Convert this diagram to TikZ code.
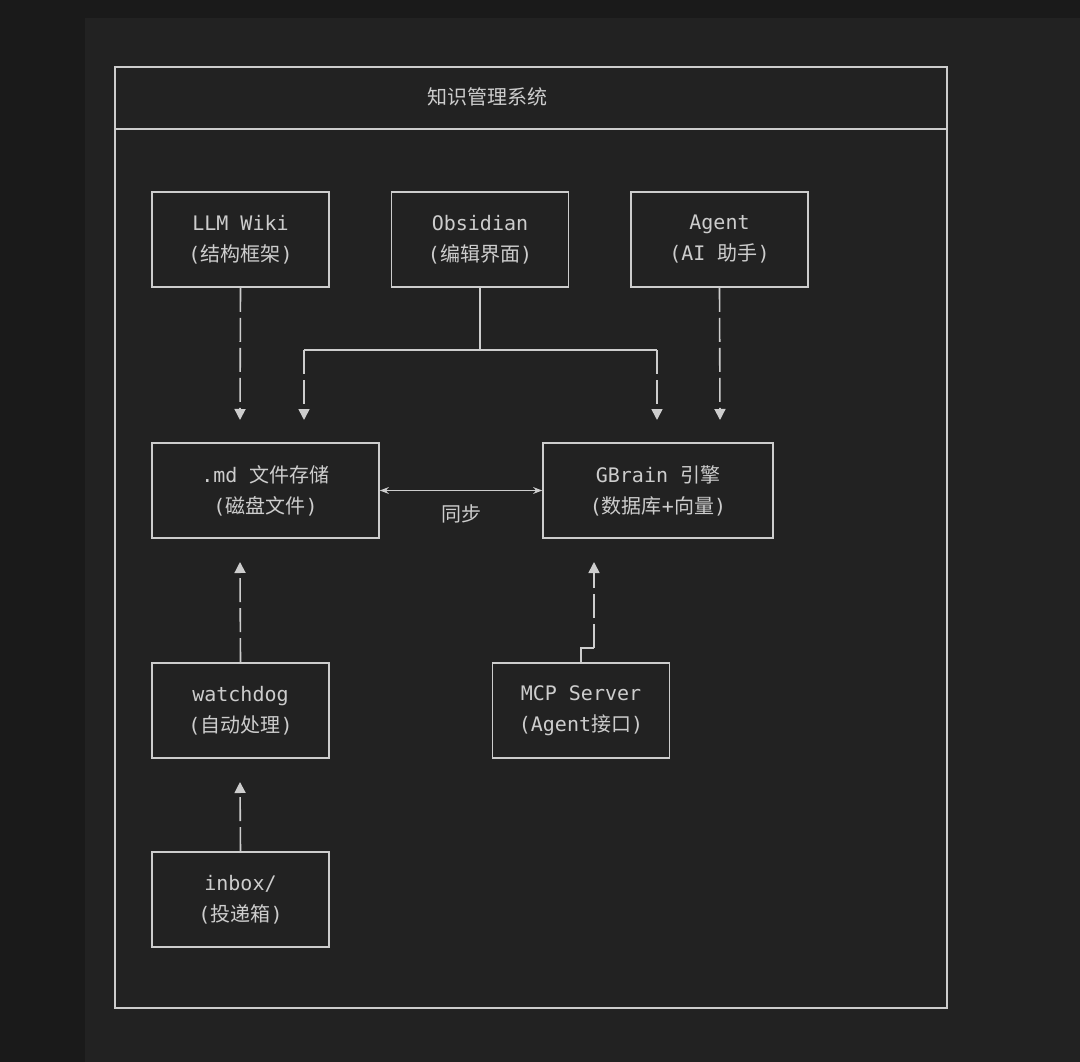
\documentclass[tikz,border=0pt]{standalone}
\usepackage{fontspec}
\setmonofont{DejaVu Sans Mono}
\newfontfamily\cjk{Noto Sans CJK SC}
\usetikzlibrary{arrows.meta,positioning}
\definecolor{pagebg}{RGB}{26,26,26}
\definecolor{panelbg}{RGB}{34,34,34}
\definecolor{inkgray}{RGB}{205,205,205}
\tikzset{
  block/.style={draw=inkgray,line width=1.6pt,minimum width=177pt,minimum height=95pt,align=center,text=inkgray,font=\ttfamily\fontsize{20}{31}\selectfont},
  wire/.style={draw=inkgray,line width=1.6pt},
  flow/.style={wire,dash pattern=on 24pt off 6pt,-{Triangle[length=11pt,width=11pt]}},
}
\newcommand{\zh}[1]{{\cjk #1}}
\begin{document}
\begin{tikzpicture}[x=1pt,y=-1pt]
\fill[pagebg] (0,0) rectangle (1080,1062);
\fill[panelbg] (85,18) rectangle (1080,1062);
\useasboundingbox (0,0) rectangle (1080,1062);
% frame
\draw[wire] (115,67) rectangle (947,1008);
\draw[wire] (115,129) -- (947,129);
\node[text=inkgray,font=\fontsize{20}{24}\selectfont\cjk] (title) at (487,97) {知识管理系统};
% top row
\node[block] (wiki) at (240.5,239.5) {LLM Wiki\\(\zh{结构框架})};
\node[block] (obs) at (480,239.5) {Obsidian\\(\zh{编辑界面})};
\node[block] (agent) at (719.5,239.5) {Agent\\(AI \zh{助手})};
% middle row
\node[block,minimum width=227pt] (md) at (265.5,490.5) {.md \zh{文件存储}\\(\zh{磁盘文件})};
\node[block,minimum width=230pt] (gbrain) at (658,490.5) {GBrain \zh{引擎}\\(\zh{数据库}+\zh{向量})};
% lower rows
\node[block] (watch) at (240.5,710.5) {watchdog\\(\zh{自动处理})};
\node[block] (mcp) at (581,710.5) {MCP Server\\(Agent\zh{接口})};
\node[block] (inbox) at (240.5,899.5) {inbox/\\(\zh{投递箱})};
% connectors
\coordinate (split) at (480,350);
\coordinate (splitL) at (304,350);
\coordinate (splitR) at (657,350);
\coordinate (jog) at (594,648);
\draw[flow] (wiki.south) -- (240,420);
\draw[wire] (obs.south) -- (split);
\draw[wire] (splitL) -- (splitR);
\draw[flow] (splitL) -- (304,420);
\draw[flow] (splitR) -- (657,420);
\draw[flow] (agent.south) -- (720,420);
\draw[wire,{Stealth[length=9pt]}-{Stealth[length=9pt]}] (md.east) -- (gbrain.west)
  node[midway,below=10pt,text=inkgray,font=\fontsize{20}{24}\selectfont\cjk] (sync) {同步};
\draw[flow] (watch.north) -- (240,562);
\draw[wire] (mcp.north) -- (581,648) -- (jog);
\draw[flow] (jog) -- (594,562);
\draw[flow] (inbox.north) -- (240,782);
\end{tikzpicture}
\end{document}
